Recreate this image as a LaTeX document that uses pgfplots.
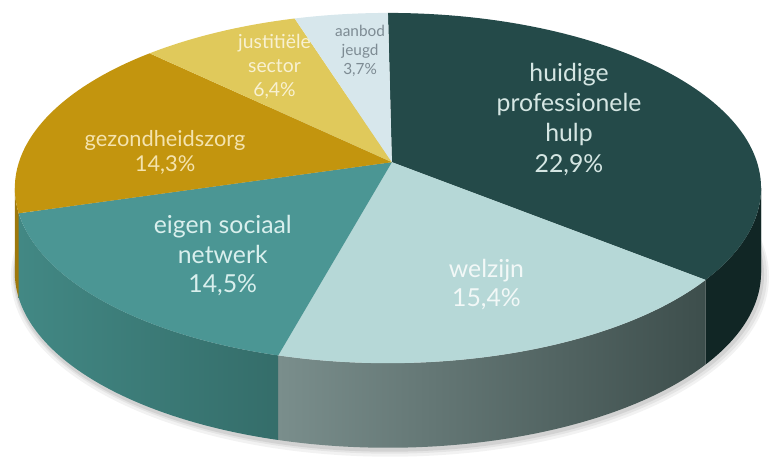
\documentclass[border=0pt]{standalone}
\usepackage{pgfplots}
\pgfplotsset{compat=1.18}
\usepackage{pgfplotstable}
\usepackage{fontspec}
\setmainfont{Lato}

\definecolor{topA}{HTML}{244A49}
\definecolor{topB}{HTML}{B6D8D7}
\definecolor{topC}{HTML}{4B9694}
\definecolor{topD}{HTML}{C3950E}
\definecolor{topE}{HTML}{E0C95B}
\definecolor{topF}{HTML}{D7E7EC}
\definecolor{sideA}{HTML}{112625}
\definecolor{sideBl}{HTML}{7A8E8C}
\definecolor{sideBr}{HTML}{3D4E4C}
\definecolor{sideCl}{HTML}{428884}
\definecolor{sideCr}{HTML}{2F625F}
\definecolor{sideD}{HTML}{9E780B}
\definecolor{txtA}{HTML}{D5E6E3}
\definecolor{txtB}{HTML}{F2F8F7}
\definecolor{txtC}{HTML}{D9EFED}
\definecolor{txtD}{HTML}{F4E3AE}
\definecolor{txtE}{HTML}{F8F1D2}
\definecolor{txtF}{HTML}{7D8B93}

\pgfplotstableread{
name value
huidige 22.9
welzijn 15.4
eigen 14.5
gezond 14.3
justitie 6.4
aanbod 3.7
}\piedata

\def\lettername#1{\ifcase#1 A\or B\or C\or D\or E\or F\or G\fi}
\pgfplotstablegetrowsof{\piedata}
\pgfmathtruncatemacro\nrows{\pgfplotsretval-1}
\xdef\total{0}
\foreach \i in {0,...,\nrows}{%
  \pgfplotstablegetelem{\i}{value}\of\piedata
  \pgfmathsetmacro\tmp{\total+\pgfplotsretval}\xdef\total{\tmp}}
\xdef\cum{0}
\xdef\pieTA{90}
\foreach \i in {0,...,\nrows}{%
  \pgfplotstablegetelem{\i}{value}\of\piedata
  \pgfmathsetmacro\cc{\cum+360*\pgfplotsretval/\total}\xdef\cum{\cc}%
  \pgfmathsetmacro\ta{90-\cc-18.5*sin(\cc/2)}%
  \pgfmathtruncatemacro\j{\i+1}%
  \expandafter\xdef\csname pieT\lettername{\j}\endcsname{\ta}}
\pgfmathsetmacro\gzlo{max(\pieTE,-180)}
\pgfmathsetmacro\huhi{min(\pieTA,0)}

% top slice: #1 hi angle, #2 lo angle, #3 colour
\newcommand\topslice[3]{%
  \fill[#3] (axis cs:386,266) ++(#1:375bp and 176bp)
    arc[start angle=#1, end angle=#2, x radius=375bp, y radius=176bp]
    -- (axis cs:390,292) -- cycle;}
% side: #1 hi, #2 lo, #3 left colour, #4 right colour
\newcommand\sideslice[4]{%
  \shade[left color=#3, right color=#4] (axis cs:386,266) ++(#1:375bp and 176bp)
    arc[start angle=#1, end angle=#2, x radius=375bp, y radius=176bp]
    -- ++(0,-85bp)
    arc[start angle=#2, end angle=#1, x radius=375bp, y radius=176bp]
    -- cycle;}

\begin{document}
\begin{tikzpicture}
\begin{axis}[width=771bp, height=455bp, scale only axis,
  xmin=0, xmax=771, ymin=0, ymax=455, hide axis, clip=false]
\path (axis cs:0,0) rectangle (axis cs:771,455);
% soft shadow
\fill[black, opacity=0.05] (axis cs:388,177) ellipse[x radius=381bp, y radius=181bp];
\fill[black, opacity=0.06] (axis cs:388,178) ellipse[x radius=379bp, y radius=179bp];
\fill[black, opacity=0.08] (axis cs:387,179) ellipse[x radius=377bp, y radius=178bp];
% sides
\fill[topA] (axis cs:386,266) ++(0:375bp and 176bp) -- ++(0,-85bp) -- ++(-2bp,0) -- cycle;
\sideslice{\huhi}{\pieTB}{sideA}{sideA}
\sideslice{\pieTB}{\pieTC}{sideBl}{sideBr}
\sideslice{\pieTC}{\pieTD}{sideCl}{sideCr}
\sideslice{\pieTD}{\gzlo}{sideD}{sideD}
% top faces
\topslice{\pieTA}{\pieTB}{topA}
\topslice{\pieTB}{\pieTC}{topB}
\topslice{\pieTC}{\pieTD}{topC}
\topslice{\pieTD}{\pieTE}{topD}
\topslice{\pieTE}{\pieTF}{topE}
\topslice{\pieTF}{\pieTG}{topF}
% labels
\node[font=\fontsize{25}{30.5}\selectfont, text=txtA, align=center] at (axis cs:568,335) {huidige\\professionele\\hulp\\22,9\%};
\node[font=\fontsize{25}{29}\selectfont, text=txtB, align=center] at (axis cs:485,169) {welzijn\\15,4\%};
\node[font=\fontsize{25}{30}\selectfont, text=txtC, align=center] at (axis cs:220,198) {eigen sociaal\\netwerk\\14,5\%};
\node[font=\fontsize{22}{25}\selectfont, text=txtD, align=center] at (axis cs:162,302) {gezondheidszorg\\14,3\%};
\node[font=\fontsize{19.5}{24}\selectfont, text=txtE, align=center] at (axis cs:272,388) {justitiële\\sector\\6,4\%};
\node[font=\fontsize{15.5}{19}\selectfont, text=txtF, align=center] at (axis cs:358,404) {aanbod\\jeugd\\3,7\%};
\end{axis}
\end{tikzpicture}
\end{document}
